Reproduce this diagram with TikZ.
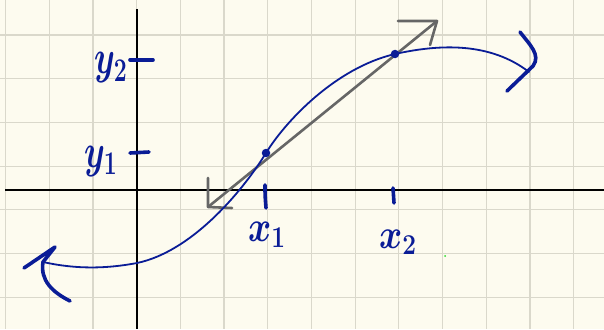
\documentclass[tikz,border=0pt]{standalone}
\usepackage{bm}
\definecolor{paper}{RGB}{253,251,239}
\definecolor{gridc}{RGB}{218,216,203}
\definecolor{ink}{RGB}{10,28,150}
\definecolor{pen}{RGB}{102,102,102}
\definecolor{dotg}{RGB}{40,220,40}
\tikzset{
  gridline/.style={gridc, line width=1.2},
  axis/.style={black, line width=2.4},
  curve/.style={ink, line width=1.8, line cap=round},
  hand/.style={ink, line width=3.6, line cap=round, line join=round},
  secant/.style={pen, line width=2.6, line cap=round, line join=round},
  lbl/.style={text=ink, inner sep=0, font=\fontsize{20}{20}\selectfont},
  ptdot/.style={circle, fill=ink, inner sep=0, minimum size=8.5}
}
\begin{document}
\begin{tikzpicture}[x=1pt,y=-1pt]
\fill[paper] (0,0) rectangle (604,329);
\useasboundingbox (0,0) rectangle (604,329);
\foreach \i in {0,...,13} \draw[gridline] ({5.5+43.7*\i},0) -- ({5.5+43.7*\i},329);
\foreach \j in {0,...,6} \draw[gridline] (0,{35+43.7*\j}) -- (604,{35+43.7*\j});
% axes
\coordinate (xl) at (5,190); \coordinate (xr) at (604,190);
\coordinate (yt) at (137,9); \coordinate (yb) at (137,329);
\draw[axis] (xl) -- (xr);
\draw[axis] (yt) -- (yb);
% ticks
\draw[hand] (130,60) -- (153,60);
\draw[hand] (130,153) -- (149,152);
\draw[hand] (265,185) .. controls (265,195) .. (266,208);
\draw[hand] (393,188) -- (394,203);
% labels
\node[lbl, anchor=base west] (ly2) at (94,74) {\scalebox{1.6}[2.3]{$\bm{y}_{\bm{2}}$}};
\node[lbl, anchor=base west] (ly1) at (84,167) {\scalebox{1.6}[2.3]{$\bm{y}_{\bm{1}}$}};
\node[lbl, anchor=base west] (lx1) at (248,241) {\scalebox{1.7}[2.1]{$\bm{x}_{\bm{1}}$}};
\node[lbl, anchor=base west] (lx2) at (379,248) {\scalebox{1.7}[2.0]{$\bm{x}_{\bm{2}}$}};
% secant
\coordinate (s1) at (208,207); \coordinate (s2) at (437,21);
\draw[secant] (s1) -- (s2);
\draw[secant] (208,178) -- (s1) -- (232,208);
\draw[secant] (398,21) -- (s2) -- (430,45);
% curve
\coordinate (cL) at (43,262); \coordinate (cM) at (137,263);
\coordinate (cP) at (266,153); \coordinate (cQ) at (395,54);
\coordinate (cR) at (529,72);
\draw[curve] (cL) .. controls (70,268) and (100,270) .. (cM)
  .. controls (190,252) and (240,195) .. (cP)
  .. controls (285,122) and (335,68) .. (cQ)
  .. controls (440,44) and (490,42) .. (cR);
% arrowheads of curve
\draw[hand] (24,268) -- (55,247) -- (43,262) .. controls (40,280) and (52,292) .. (70,301);
\draw[hand] (520,32) .. controls (530,45) and (541,55) .. (533,66) -- (507,91);
% points
\node[ptdot] (p1) at (cP) {};
\node[ptdot] (p2) at (cQ) {};
\node[circle, fill=dotg, inner sep=0, minimum size=2] (g) at (445,256) {};
\end{tikzpicture}
\end{document}
